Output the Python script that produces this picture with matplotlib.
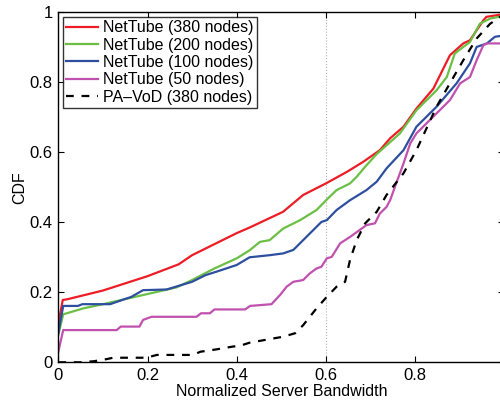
import numpy as np
import matplotlib.pyplot as plt

plt.rcParams['font.family'] = ['Liberation Sans', 'DejaVu Sans']

# NetTube (380 nodes)
x_380 = [0, 0.01, 0.02, 0.1, 0.2, 0.27, 0.3, 0.4, 0.429, 0.504, 0.549, 0.60, 0.647, 0.684,
         0.721, 0.744, 0.774, 0.803, 0.841, 0.878, 0.908, 0.923, 0.953, 0.96, 1.0]
y_380 = [0.11, 0.178, 0.18, 0.205, 0.246, 0.28, 0.306, 0.369, 0.385, 0.43, 0.478, 0.511, 0.544, 0.573,
         0.606, 0.64, 0.673, 0.725, 0.782, 0.877, 0.911, 0.92, 0.977, 0.987, 0.995]

# NetTube (200 nodes)
x_200 = [0, 0.011, 0.056, 0.093, 0.2, 0.265, 0.3, 0.35, 0.4, 0.429, 0.452, 0.474, 0.504, 0.542,
         0.579, 0.602, 0.624, 0.654, 0.669, 0.691, 0.714, 0.766, 0.803, 0.848, 0.871, 0.889,
         0.908, 0.923, 0.945, 0.968, 1.0]
y_200 = [0.078, 0.137, 0.154, 0.164, 0.195, 0.214, 0.235, 0.268, 0.297, 0.32, 0.344, 0.349, 0.382, 0.406,
         0.435, 0.465, 0.492, 0.511, 0.53, 0.563, 0.595, 0.654, 0.72, 0.777, 0.815, 0.882,
         0.901, 0.915, 0.967, 0.982, 0.99]

# NetTube (100 nodes)
x_100 = [0, 0.011, 0.044, 0.054, 0.116, 0.164, 0.19, 0.243, 0.3, 0.33, 0.355, 0.4, 0.429, 0.474,
         0.504, 0.527, 0.564, 0.59, 0.602, 0.624, 0.654, 0.691, 0.714, 0.736, 0.774, 0.803, 0.848,
         0.893, 0.923, 0.938, 0.961, 0.979, 1.0]
y_100 = [0.083, 0.161, 0.161, 0.166, 0.166, 0.187, 0.206, 0.208, 0.23, 0.249, 0.259, 0.278, 0.30, 0.306,
         0.311, 0.321, 0.368, 0.401, 0.406, 0.435, 0.463, 0.492, 0.516, 0.554, 0.606, 0.673, 0.73,
         0.797, 0.854, 0.901, 0.911, 0.93, 0.934]

# NetTube (50 nodes)
x_50 = [0, 0.011, 0.131, 0.14, 0.182, 0.19, 0.209, 0.31, 0.32, 0.34, 0.35, 0.419, 0.43, 0.478,
        0.497, 0.512, 0.527, 0.549, 0.564, 0.579, 0.59, 0.602, 0.613, 0.632, 0.654, 0.691, 0.71,
        0.721, 0.736, 0.744, 0.759, 0.774, 0.789, 0.803, 0.818, 0.848, 0.878, 0.901, 0.923,
        0.938, 0.953, 0.961, 1.0]
y_50 = [0.03, 0.092, 0.092, 0.102, 0.102, 0.121, 0.13, 0.13, 0.14, 0.14, 0.151, 0.151, 0.161, 0.166,
        0.192, 0.216, 0.23, 0.235, 0.254, 0.268, 0.273, 0.297, 0.301, 0.34, 0.358, 0.392, 0.397,
        0.425, 0.444, 0.463, 0.516, 0.568, 0.625, 0.654, 0.673, 0.711, 0.749, 0.797, 0.815,
        0.863, 0.906, 0.911, 0.911]

# PA-VoD (380 nodes)
x_pa = [0, 0.05, 0.08, 0.108, 0.123, 0.197, 0.221, 0.303, 0.318, 0.355, 0.392, 0.407, 0.429,
        0.504, 0.531, 0.549, 0.579, 0.602, 0.624, 0.643, 0.654, 0.669, 0.688, 0.714, 0.736,
        0.774, 0.803, 0.848, 0.878, 0.908, 0.938, 0.968, 1.0]
y_pa = [0, 0, 0.003, 0.009, 0.013, 0.013, 0.021, 0.021, 0.03, 0.037, 0.045, 0.047, 0.056,
        0.073, 0.083, 0.106, 0.154, 0.187, 0.216, 0.23, 0.292, 0.349, 0.397, 0.43, 0.478,
        0.54, 0.606, 0.73, 0.797, 0.863, 0.925, 0.967, 0.995]

fig = plt.figure(figsize=(5, 4), dpi=100)
ax = fig.add_axes([0.1166, 0.0943, 0.892, 0.875])

ax.axvline(0.6, color='#b0b0b0', linestyle=':', linewidth=0.8, zorder=0)

ax.plot(x_380, y_380, color='#ee1c25', lw=1.6, label='NetTube (380 nodes)')
ax.plot(x_200, y_200, color='#6abf45', lw=1.6, label='NetTube (200 nodes)')
ax.plot(x_100, y_100, color='#2e4fa0', lw=1.6, label='NetTube (100 nodes)')
ax.plot(x_50, y_50, color='#c051ae', lw=1.6, label='NetTube (50 nodes)')
ax.plot(x_pa, y_pa, color='black', lw=1.6, linestyle=(0, (3.5, 3.5)), label='PA\u2013VoD (380 nodes)')

ax.set_xlim(0, 1)
ax.set_ylim(0, 1)
ax.set_xticks([0, 0.2, 0.4, 0.6, 0.8, 1.0])
ax.set_xticklabels(['0', '0.2', '0.4', '0.6', '0.8', ''])
ax.set_yticks([0, 0.2, 0.4, 0.6, 0.8, 1.0])
ax.set_yticklabels(['0', '0.2', '0.4', '0.6', '0.8', '1'])
ax.tick_params(direction='in', top=True, right=True, labelsize=12, length=4, pad=4)
for s in ax.spines.values():
    s.set_linewidth(1.0)

ax.set_xlabel('Normalized Server Bandwidth', fontsize=11.5, labelpad=1)
ax.set_ylabel('CDF', fontsize=11.5, labelpad=2)

leg = ax.legend(loc='upper left', fontsize=11.5, frameon=True, fancybox=False,
                edgecolor='black', handlelength=2.0, handletextpad=0.3,
                labelspacing=0.15, borderpad=0.2, borderaxespad=0.3)
leg.get_frame().set_linewidth(1.0)

fig.savefig('out.png', dpi=100)
